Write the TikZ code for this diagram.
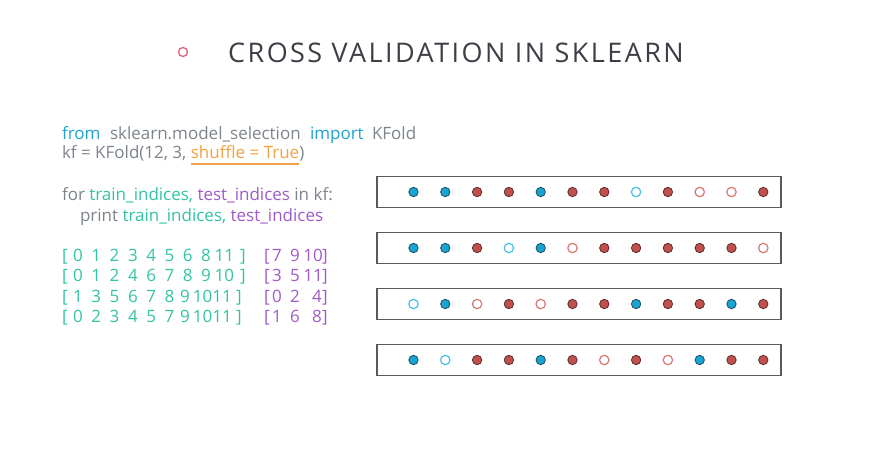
\documentclass[tikz,border=0pt]{standalone}
\usepackage{fontspec}
\setmainfont{Open Sans}
\newfontfamily\titlefont[LetterSpace=9]{Open Sans}

\definecolor{titlegray}{HTML}{3C3F46}
\definecolor{bulletpink}{HTML}{E0607E}
\definecolor{kwblue}{HTML}{1FA3CF}
\definecolor{codegray}{HTML}{7E848C}
\definecolor{trainteal}{HTML}{33C4A5}
\definecolor{testpurple}{HTML}{A05BC9}
\definecolor{argorange}{HTML}{F2A244}
\definecolor{boxgray}{HTML}{5A5A5A}
\definecolor{dotblue}{HTML}{1AA3CF}
\definecolor{dotblueedge}{HTML}{1D4E5F}
\definecolor{dotred}{HTML}{C1504B}
\definecolor{dotrededge}{HTML}{5C2C2A}
\definecolor{openblue}{HTML}{45C2E4}
\definecolor{openred}{HTML}{D47A75}

\tikzset{
  txt/.style={inner sep=0pt, outer sep=0pt, anchor=base west, font=\fontsize{17}{20}\selectfont},
  numtrain/.style={inner sep=0pt, anchor=base, text=trainteal, font=\fontsize{17}{20}\selectfont},
  numtest/.style={inner sep=0pt, anchor=base, text=testpurple, font=\fontsize{17}{20}\selectfont},
  rowbox/.style={draw=boxgray, line width=1.1pt, fill=white, minimum width=404pt, minimum height=31pt, inner sep=0pt},
  dotbase/.style={circle, inner sep=0pt, minimum size=9.4pt},
  dotB/.style={dotbase, fill=dotblue, draw=dotblueedge, line width=0.8pt},
  dotR/.style={dotbase, fill=dotred, draw=dotrededge, line width=0.8pt},
  dotb/.style={dotbase, fill=white, draw=openblue, line width=1.2pt},
  dotr/.style={dotbase, fill=white, draw=openred, line width=1.2pt},
}

% one row of printed index values: #1 name prefix, #2 baseline, #3 style, #4 text/x pairs
\newcommand\numrow[4]{%
  \foreach \t/\x [count=\i] in {#4} {\node[#3] (#1-\i) at (\x, #2) {\t};}}

\begin{document}
\begin{tikzpicture}[x=1pt, y=-1pt]
\useasboundingbox[fill=white] (0,0) rectangle (871,474);

% heading
\node[circle, draw=bulletpink, line width=1.3pt, minimum size=9pt, inner sep=0pt] (bullet) at (183,52) {};
\node[inner sep=0pt, anchor=base west, text=titlegray, font=\titlefont\fontsize{27}{30}\selectfont] (title) at (228,62) {CROSS VALIDATION IN SKLEARN};

% code
\node[txt, text=kwblue] (kwfrom) at (62,139) {from};
\node[txt, text=codegray] (module) at (110,139) {sklearn.model\_selection};
\node[txt, text=kwblue] (kwimport) at (310,139) {import};
\node[txt, text=codegray] (kfoldname) at (372,139) {KFold};

\node[txt, text=codegray] (kfline) at (62,158) {kf = KFold(12, 3,};
\node[txt, text=argorange] (shuffle) at ([xshift=4.5pt]kfline.base east) {shuffle = True};
\node[txt, text=codegray] (closeparen) at (shuffle.base east) {)};
\draw[argorange, line width=1.6pt] ([yshift=-6pt]shuffle.base west) -- ([yshift=-6pt]shuffle.base east);

\node[txt] (forline) at (62,200) {\color{codegray}for \color{trainteal}train\_indices, \color{testpurple}test\_indices \color{codegray}in kf:};
\node[txt] (printline) at (80,221) {\color{codegray}print \color{trainteal}train\_indices, \color{testpurple}test\_indices};

% printed folds
\numrow{trA}{261}{numtrain}{\lbrack/65, 0/78, 1/96.3, 2/114.6, 3/132.9, 4/151.2, 5/169.5, 6/187.8, 8/206.1, 11/224.4, \rbrack/243}
\numrow{trB}{281}{numtrain}{\lbrack/65, 0/78, 1/96.3, 2/114.6, 4/132.9, 6/151.2, 7/169.5, 8/187.8, 9/206.1, 10/224.4, \rbrack/243}
\numrow{trC}{302}{numtrain}{\lbrack/65, 1/78, 3/96.3, 5/114.6, 6/132.9, 7/151.2, 8/169.5, 9/185, 10/202.5, 11/222, \rbrack/239}
\numrow{trD}{322}{numtrain}{\lbrack/65, 0/78, 2/96.3, 3/114.6, 4/132.9, 5/151.2, 7/169.5, 9/185, 10/202.5, 11/222, \rbrack/239}

\numrow{teA}{261}{numtest}{\lbrack/267, 7/277, 9/295, 10/313, \rbrack/325}
\numrow{teB}{281}{numtest}{\lbrack/267, 3/277, 5/295, 11/313, \rbrack/325}
\numrow{teC}{302}{numtest}{\lbrack/267, 0/277, 2/295, 4/317, \rbrack/325}
\numrow{teD}{322}{numtest}{\lbrack/267, 1/277, 6/295, 8/317, \rbrack/325}

% fold strips: filled = training sample, hollow = test sample
\foreach \r/\yy/\pat in {
  1/192/{B,B,R,R,B,R,R,b,R,r,r,R},
  2/248/{B,B,R,b,B,r,R,R,R,R,R,r},
  3/304/{b,B,r,R,r,R,R,B,R,R,B,R},
  4/360/{B,b,R,R,B,R,r,R,r,B,R,R}} {
  \node[rowbox] (strip\r) at (579,\yy) {};
  \foreach \c [count=\i from 0] in \pat {
    \node[dot\c] (s\r-\i) at (413.5+31.8*\i, \yy) {};
  }
}
\end{tikzpicture}
\end{document}
